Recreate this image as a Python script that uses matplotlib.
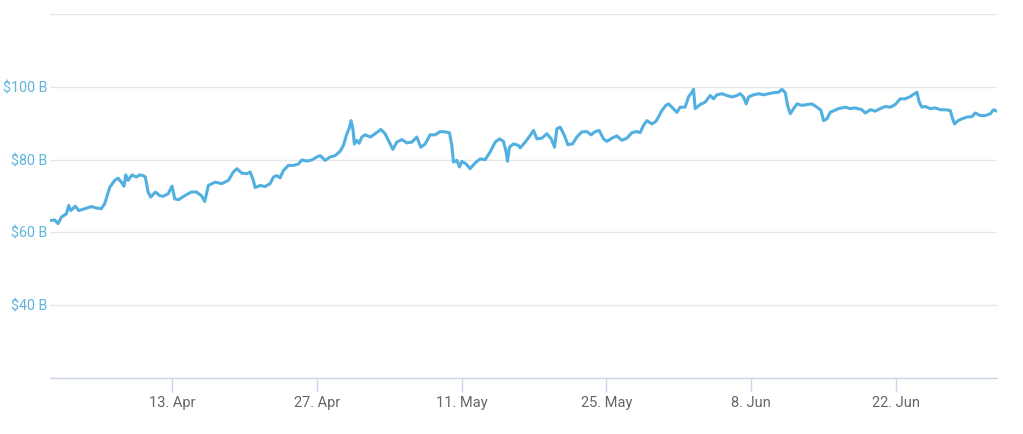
"""Market-cap style line chart, April to early July, values in billions of dollars."""

import matplotlib

matplotlib.use("Agg")
import matplotlib.pyplot as plt  # noqa: E402
import pandas as pd  # noqa: E402

START = pd.Timestamp("2020-04-01")

# days since START, and value in $ billions
days = [
    0.33, 0.66, 0.98, 1.30, 1.78, 2.01, 2.21, 2.65, 2.98, 3.56, 4.20, 4.68, 5.16, 5.49,
    5.98, 6.46, 6.78, 7.10, 7.36, 7.52, 7.75, 8.13, 8.55, 8.88, 9.20, 9.42, 9.68, 9.94,
    10.39, 10.81, 11.13, 11.62, 12.00, 12.26, 12.65, 13.23, 13.87, 14.35, 14.84, 15.16,
    15.51, 16.16, 16.81, 17.45, 17.93, 18.26, 18.74, 19.23, 19.55, 19.86, 20.03, 20.51,
    20.99, 21.48, 21.80, 22.13, 22.45, 22.77, 23.25, 23.73, 24.22, 24.55, 25.03, 25.51,
    26.00, 26.32, 26.80, 27.28, 27.77, 28.25, 28.57, 28.90, 29.12, 29.31, 29.48, 29.63,
    29.86, 30.09, 30.35, 30.67, 31.16, 31.64, 32.19, 32.60, 32.92, 33.35, 33.73, 34.22,
    34.70, 35.18, 35.67, 36.05, 36.47, 36.95, 37.44, 37.92, 38.40, 38.82, 39.05, 39.21,
    39.54, 39.79, 40.02, 40.44, 40.82, 41.31, 41.79, 42.27, 42.76, 43.24, 43.66, 44.04,
    44.30, 44.43, 44.62, 45.01, 45.49, 45.66, 46.14, 46.62, 46.95, 47.27, 47.76, 48.24,
    48.66, 48.98, 49.21, 49.53, 49.94, 50.27, 50.72, 51.14, 51.62, 52.11, 52.52, 52.91,
    53.30, 53.71, 54.04, 54.53, 55.01, 55.49, 55.98, 56.46, 56.94, 57.26, 57.58, 57.91,
    58.39, 58.78, 59.03, 59.36, 59.75, 60.00, 60.33, 60.81, 61.13, 61.61, 61.93, 62.26,
    62.42, 62.58, 63.06, 63.55, 64.03, 64.35, 64.68, 65.16, 65.64, 66.13, 66.61, 66.93,
    67.25, 67.51, 67.74, 68.22, 68.70, 69.19, 69.67, 70.16, 70.64, 70.97, 71.29, 71.51,
    71.77, 72.09, 72.42, 72.90, 73.39, 73.87, 74.36, 74.74, 74.99, 75.32, 75.64, 76.44,
    77.09, 77.57, 78.05, 78.70, 79.02, 79.51, 79.99, 80.47, 80.95, 81.44, 81.92, 82.40,
    82.89, 83.37, 83.79, 84.02, 84.24, 84.50, 84.82, 85.31, 85.79, 86.27, 86.76, 87.24,
    87.47, 87.66, 87.99, 88.38, 88.86, 89.34, 89.66, 90.14, 90.63, 91.11, 91.43, 91.76,
]
values = [
    63.3, 63.4, 62.4, 64.2, 65.1, 67.4, 66.0, 67.2, 66.0, 66.5, 67.1, 66.7, 66.5, 67.9,
    72.4, 74.3, 74.9, 73.8, 72.7, 75.8, 74.3, 75.8, 75.2, 75.8, 75.6, 75.2, 71.1, 69.7,
    71.1, 70.1, 69.9, 70.6, 72.7, 69.2, 69.0, 70.1, 71.1, 71.1, 70.1, 68.5,
    72.9, 73.8, 73.4, 74.3, 76.6, 77.5, 76.3, 76.1, 76.6, 74.3, 72.3, 72.9,
    72.6, 73.4, 75.2, 75.6, 75.0, 77.0, 78.4, 78.4, 78.8, 79.9, 79.6, 79.9,
    80.7, 81.1, 79.8, 80.7, 81.1, 82.3, 83.9, 87.1, 88.5, 90.7, 88.5, 84.3,
    85.3, 84.5, 86.2, 86.8, 86.2, 87.1, 88.3, 87.1, 85.3, 82.8, 84.8, 85.5,
    84.6, 84.8, 86.2, 83.4, 84.3, 86.8, 86.8, 87.7, 87.6, 87.4, 83.9, 79.3,
    79.8, 78.0, 79.5, 78.8, 77.5, 79.1, 80.2, 80.0, 82.1, 84.8, 85.7, 85.0,
    82.1, 79.5, 83.4, 84.3, 83.9, 83.2, 84.8, 86.6, 88.0, 85.7, 85.9, 87.1,
    85.7, 83.4, 88.5, 88.9, 86.6, 84.1, 84.3, 86.2, 87.6, 87.7, 86.8, 87.7,
    88.0, 85.7, 85.0, 85.9, 86.5, 85.3, 85.9, 87.4, 87.7, 87.4, 89.4, 90.7,
    89.8, 90.5, 91.7, 93.5, 94.9, 95.3, 94.4, 93.0, 94.4, 94.4, 97.2, 98.5,
    99.3, 94.0, 95.1, 95.8, 97.6, 96.7, 97.8, 98.1, 97.6, 97.2, 97.6, 98.1,
    97.2, 95.3, 97.2, 97.8, 98.1, 97.8, 98.1, 98.4, 98.5, 99.3, 98.4, 94.9,
    92.6, 94.0, 95.3, 94.9, 95.1, 95.3, 94.4, 93.5, 90.7, 91.2, 93.0, 94.0,
    94.4, 94.0, 94.2, 93.7, 92.8, 93.7, 93.3, 94.0, 94.6, 94.4, 95.1, 96.7,
    96.7, 97.3, 98.1, 98.5, 95.8, 94.4, 94.6, 94.0, 94.2, 93.7, 93.7, 93.5,
    91.2, 89.8, 90.7, 91.2, 91.7, 91.8, 92.8, 92.1, 92.1, 92.6, 93.7, 93.3,
]

y_ticks = [20, 40, 60, 80, 100, 120]
y_labels = ["", "$40 B", "$60 B", "$80 B", "$100 B", ""]
x_ticks = ["2020-04-13", "2020-04-27", "2020-05-11", "2020-05-25", "2020-06-08", "2020-06-22"]
x_labels = ["13. Apr", "27. Apr", "11. May", "25. May", "8. Jun", "22. Jun"]

LINE = "#52b0e0"
GRID = "#e6e6e6"
AXIS = "#ccd6eb"

plt.rcParams["font.family"] = ["Roboto", "DejaVu Sans"]

dates = START + pd.to_timedelta(days, unit="D")

fig = plt.figure(figsize=(10.23, 4.34), dpi=100)
ax = fig.add_axes([50 / 1023, 56 / 434, 947 / 1023, 364 / 434])
ax.plot(dates, values, color=LINE, lw=2.2, solid_joinstyle="round")

ax.set_ylim(20, 120)
ax.set_xlim(START + pd.Timedelta(days=0.2), dates[-1])
ax.set_yticks(y_ticks)
ax.set_yticklabels(y_labels)
ax.set_xticks(pd.to_datetime(x_ticks))
ax.set_xticklabels(x_labels)

ax.grid(axis="y", color=GRID, lw=1)
ax.set_axisbelow(True)
for side in ("top", "right", "left"):
    ax.spines[side].set_visible(False)
ax.spines["bottom"].set_color(AXIS)
ax.spines["bottom"].set_linewidth(1)

ax.tick_params(axis="y", length=0, pad=2, labelsize=10.3, labelcolor="#5fb4dc")
ax.tick_params(axis="x", length=10, width=1, color=AXIS, pad=3, labelsize=10.5,
               labelcolor="#666666")

fig.savefig("out.png", dpi=100)
